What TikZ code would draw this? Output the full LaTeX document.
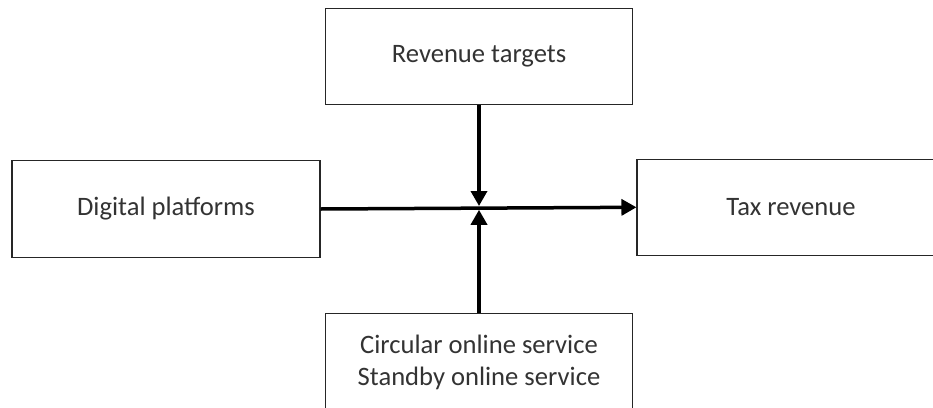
\documentclass[tikz,border=0pt]{standalone}
\usepackage{fontspec}
\setmainfont{Carlito}
\usetikzlibrary{arrows.meta}
\begin{document}
\begin{tikzpicture}[x=1pt,y=-1pt,
  box/.style={draw=black!85, line width=1.1pt, inner sep=0pt, text=black!80,
    font=\fontsize{26.6}{32}\selectfont, align=center},
  conn/.style={line width=3.5pt, black, -{Triangle[length=15pt,width=16pt]}}]
\useasboundingbox (0,0) rectangle (933,407);
\clip (0,0) rectangle (933,407);
\node[box, minimum width=307.7pt, minimum height=96pt] (rt) at (479,56.3) {Revenue targets};
\node[box, minimum width=308pt, minimum height=96.3pt] (dp) at (166,209) {Digital platforms};
\node[box, minimum width=308pt, minimum height=96pt] (tr) at (791,207.3) {Tax revenue};
\node[box, minimum width=307.7pt, minimum height=97.6pt] (bs) at (479,362.5) {Circular online service\\Standby online service};
\coordinate (ct) at (479,206);
\coordinate (cb) at (479,209.8);
\draw[conn] (dp.east) -- (tr.west);
\draw[conn] (rt.south) -- (ct);
\draw[conn] (bs.north) -- (cb);
\end{tikzpicture}
\end{document}
